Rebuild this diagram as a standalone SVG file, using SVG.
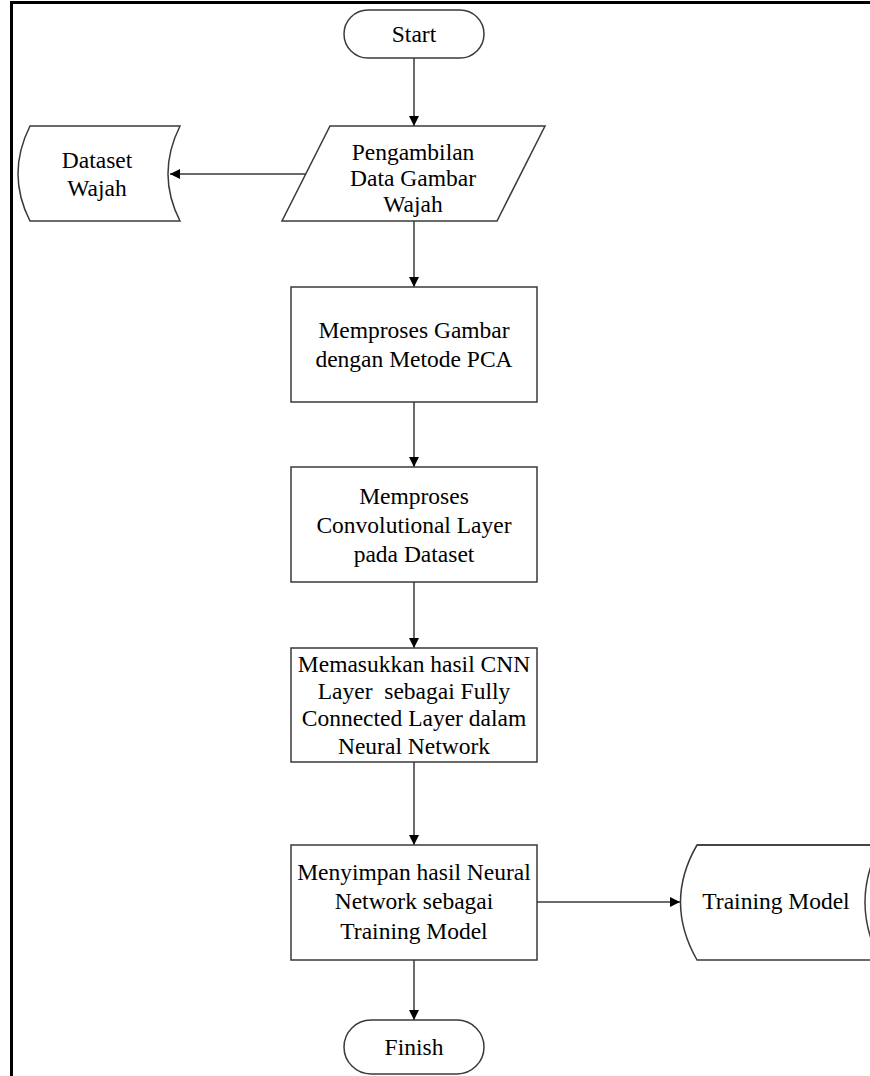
<svg xmlns="http://www.w3.org/2000/svg" width="870" height="1076" viewBox="0 0 870 1076">
<defs>
<marker id="ah" viewBox="0 0 10 10" refX="10" refY="5" markerWidth="10" markerHeight="10" markerUnits="userSpaceOnUse" orient="auto">
<path d="M0,0 L10,5 L0,10 z" fill="#000"/>
</marker>
<style>
.s{fill:#fff;stroke:#3a3a3a;stroke-width:1.5}
.t{font-family:"Liberation Serif","Times New Roman",serif;font-size:23.5px;fill:#000;text-anchor:middle}
.c{stroke:#3a3a3a;stroke-width:1.5;fill:none}
</style>
</defs>
<rect x="0" y="0" width="870" height="1076" fill="#fff"/>
<path d="M11.5,1076 V2.5 H870" fill="none" stroke="#000" stroke-width="3"/>
<g id="connectors">
<line class="c" x1="414" y1="58" x2="414" y2="126" marker-end="url(#ah)"/>
<line class="c" x1="306" y1="174" x2="170" y2="174" marker-end="url(#ah)"/>
<line class="c" x1="414" y1="221" x2="414" y2="287" marker-end="url(#ah)"/>
<line class="c" x1="414" y1="402" x2="414" y2="467" marker-end="url(#ah)"/>
<line class="c" x1="414" y1="582" x2="414" y2="648" marker-end="url(#ah)"/>
<line class="c" x1="414" y1="762" x2="414" y2="845" marker-end="url(#ah)"/>
<line class="c" x1="537" y1="902" x2="680" y2="902" marker-end="url(#ah)"/>
<line class="c" x1="414" y1="960" x2="414" y2="1020" marker-end="url(#ah)"/>
</g>
<g id="start">
<rect class="s" x="344" y="10" width="140" height="48" rx="24"/>
<text class="t" x="414" y="42">Start</text>
</g>
<g id="pengambilan">
<path class="s" d="M330,126 H545 L497,221 H282 Z"/>
<text class="t" x="413" y="160">Pengambilan</text>
<text class="t" x="413" y="186">Data Gambar</text>
<text class="t" x="413" y="212">Wajah</text>
</g>
<g id="dataset">
<path class="s" d="M30,126 H180 Q156,174 180,221 H30 Q6,174 30,126 Z"/>
<text class="t" x="97" y="168">Dataset</text>
<text class="t" x="97" y="196">Wajah</text>
</g>
<g id="pca">
<rect class="s" x="291" y="287" width="246" height="115"/>
<text class="t" x="414" y="338">Memproses Gambar</text>
<text class="t" x="414" y="367">dengan Metode PCA</text>
</g>
<g id="conv">
<rect class="s" x="291" y="467" width="246" height="115"/>
<text class="t" x="414" y="504">Memproses</text>
<text class="t" x="414" y="533">Convolutional Layer</text>
<text class="t" x="414" y="562">pada Dataset</text>
</g>
<g id="fc">
<rect class="s" x="291" y="648" width="246" height="114"/>
<text class="t" x="414" y="672">Memasukkan hasil CNN</text>
<text class="t" x="414" y="699" xml:space="preserve">Layer  sebagai Fully</text>
<text class="t" x="414" y="726">Connected Layer dalam</text>
<text class="t" x="414" y="754">Neural Network</text>
</g>
<g id="simpan">
<rect class="s" x="291" y="845" width="246" height="115"/>
<text class="t" x="414" y="880">Menyimpan hasil Neural</text>
<text class="t" x="414" y="909">Network sebagai</text>
<text class="t" x="414" y="939">Training Model</text>
</g>
<g id="training">
<path class="s" d="M697,845 H880 V960 H697 Q664,902 697,845 Z"/>
<path class="c" d="M880,845 Q850,902 880,960"/>
<path d="M870,845 H697" class="c"/>
<text class="t" x="776" y="909">Training Model</text>
</g>
<g id="finish">
<rect class="s" x="344" y="1020" width="140" height="54" rx="27"/>
<text class="t" x="414" y="1055">Finish</text>
</g>
</svg>
